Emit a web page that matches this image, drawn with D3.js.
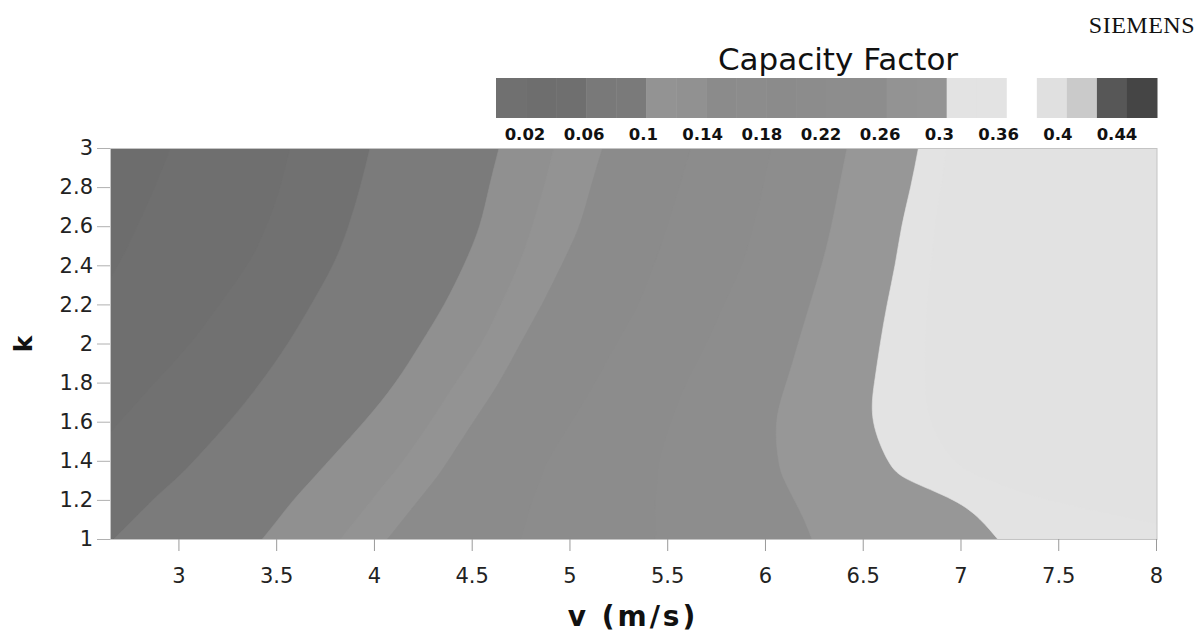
<!DOCTYPE html>
<html>
<head>
<meta charset="utf-8">
<script src="https://cdn.jsdelivr.net/npm/d3@7"></script>
<style>
  html, body { margin: 0; padding: 0; background: #ffffff; }
  svg { display: block; }
</style>
</head>
<body>
<svg id="chart" width="1204" height="637"></svg>
<script>
// ---------------- data ----------------
const xTicks = [3, 3.5, 4, 4.5, 5, 5.5, 6, 6.5, 7, 7.5, 8];
const yTicks = [1, 1.2, 1.4, 1.6, 1.8, 2, 2.2, 2.4, 2.6, 2.8, 3];

// k values at which each contour boundary position (wind speed v) was read
const kLevels = [1, 1.1, 1.2, 1.3, 1.4, 1.6, 1.8, 2, 2.2, 2.4, 2.6, 2.8, 3];

// contour boundaries (v in m/s at each k of kLevels), left to right
const cf002 = [1.76, 1.83, 1.90, 1.97, 2.04, 2.18, 2.32, 2.45, 2.57, 2.69, 2.79, 2.88, 2.96];
const cf004 = [2.16, 2.25, 2.34, 2.43, 2.52, 2.70, 2.88, 3.06, 3.21, 3.35, 3.45, 3.52, 3.57];
const cf006 = [2.67, 2.77, 2.87, 2.98, 3.08, 3.26, 3.42, 3.56, 3.68, 3.79, 3.87, 3.93, 3.98];
const cf010 = [3.43, 3.51, 3.59, 3.68, 3.77, 3.95, 4.11, 4.24, 4.36, 4.46, 4.54, 4.59, 4.64];
const cf012 = [3.83, 3.91, 3.99, 4.07, 4.15, 4.29, 4.42, 4.55, 4.65, 4.74, 4.81, 4.87, 4.92];
const cf014 = [4.07, 4.15, 4.23, 4.31, 4.38, 4.51, 4.64, 4.75, 4.86, 4.96, 5.05, 5.11, 5.17];
const cf018 = [4.75, 4.78, 4.81, 4.85, 4.89, 5.01, 5.13, 5.24, 5.35, 5.43, 5.50, 5.56, 5.62];
const cf022 = [5.44, 5.44, 5.44, 5.45, 5.46, 5.52, 5.60, 5.70, 5.79, 5.88, 5.94, 5.99, 6.03];
const cf026 = [6.24, 6.20, 6.15, 6.10, 6.07, 6.06, 6.11, 6.17, 6.23, 6.29, 6.34, 6.38, 6.42];
const cf030 = [7.19, 7.10, 6.96, 6.74, 6.63, 6.555, 6.56, 6.59, 6.625, 6.665, 6.70, 6.745, 6.785];
const cf036 = [8.30, 7.90, 7.45, 7.15, 6.97, 6.85, 6.82, 6.82, 6.83, 6.85, 6.87, 6.90, 6.93];

const boundaries = [cf002, cf004, cf006, cf010, cf012, cf014, cf018, cf022, cf026, cf030, cf036];
// grey of the band left of the first boundary, then of the band right of each boundary
const baseColor = "#6d6d6d";
const bandColors = ["#6f6f6f", "#717171", "#7b7b7b", "#909090", "#939393",
                    "#8b8b8b", "#8c8c8c", "#8d8d8d", "#979797", "#e3e3e3", "#e2e2e2"];

// legend
const legendTitle = "Capacity Factor";
const legendCells = ["#707070", "#6e6e6e", "#6f6f6f", "#797979", "#7a7a7a", "#939393",
                     "#919191", "#8b8b8b", "#8c8c8c", "#8b8b8b", "#8c8c8c", "#8d8d8d",
                     "#8d8d8d", "#939393", "#949494", "#e3e3e3", "#e3e3e3", "#ffffff",
                     "#e0e0e0", "#cacaca", "#575757", "#454545"];
const legendLabels = ["0.02", "0.06", "0.1", "0.14", "0.18", "0.22", "0.26", "0.3", "0.36", "0.4", "0.44"];

// ---------------- drawing ----------------
const svg = d3.select("#chart");
const plot = { left: 110, right: 1156, top: 148, bottom: 539 };

const x = d3.scaleLinear().domain([2.65, 8]).range([plot.left, plot.right]);
const y = d3.scaleLinear().domain([1, 3]).range([plot.bottom, plot.top]);

svg.append("defs").append("clipPath").attr("id", "plotClip")
  .append("rect")
  .attr("x", plot.left).attr("y", plot.top)
  .attr("width", plot.right - plot.left + 1).attr("height", plot.bottom - plot.top);

const g = svg.append("g").attr("clip-path", "url(#plotClip)");

g.append("rect")
  .attr("x", x(2.65)).attr("y", y(3))
  .attr("width", x(8) - x(2.65) + 1).attr("height", y(1) - y(3))
  .attr("fill", baseColor);

const area = d3.area()
  .curve(d3.curveNatural)
  .y(d => y(d.k))
  .x0(d => x(d.v))
  .x1(() => x(8) + 5);

boundaries.forEach((vals, i) => {
  const pts = kLevels.map((k, j) => ({ k: k, v: vals[j] }));
  g.append("path")
    .attr("d", area(pts))
    .attr("fill", bandColors[i])
    .attr("stroke", bandColors[i])
    .attr("stroke-width", 0.6);
});

// plot frame
svg.append("rect")
  .attr("x", plot.left + 0.5).attr("y", plot.top + 0.5)
  .attr("width", plot.right - plot.left + 0.5).attr("height", plot.bottom - plot.top)
  .attr("fill", "none").attr("stroke", "#c4c4c4").attr("stroke-width", 1);

// axes
const fontFamily = "'DejaVu Sans', Verdana, sans-serif";
const xAxis = svg.append("g")
  .attr("transform", `translate(0,${plot.bottom})`)
  .call(d3.axisBottom(x).tickValues(xTicks).tickSize(12).tickPadding(17).tickFormat(d => String(d)));
xAxis.select(".domain").remove();
xAxis.selectAll(".tick line").attr("stroke", "#9a9a9a");
xAxis.selectAll(".tick text").attr("font-family", fontFamily).attr("font-size", 21).attr("fill", "#222");

const yAxis = svg.append("g")
  .attr("transform", `translate(${plot.left},0)`)
  .call(d3.axisLeft(y).tickValues(yTicks).tickSize(13).tickPadding(4).tickFormat(d => String(d)));
yAxis.select(".domain").remove();
yAxis.selectAll(".tick line").attr("stroke", "#b0b0b0");
yAxis.selectAll(".tick text").attr("font-family", fontFamily).attr("font-size", 21).attr("fill", "#222");

// axis titles
svg.append("text")
  .attr("x", 633).attr("y", 626)
  .attr("text-anchor", "middle")
  .attr("font-family", fontFamily).attr("font-weight", "bold").attr("font-size", 28)
  .attr("letter-spacing", 3)
  .attr("fill", "#111")
  .text("v (m/s)");

svg.append("text")
  .attr("transform", "translate(32,344) rotate(-90)")
  .attr("text-anchor", "middle")
  .attr("font-family", fontFamily).attr("font-weight", "bold").attr("font-size", 25)
  .attr("fill", "#111")
  .text("k");

// legend
const legend = svg.append("g");
const lx = d3.scaleBand().domain(d3.range(legendCells.length)).range([496, 1157]).paddingInner(0);
legend.selectAll("rect").data(legendCells).join("rect")
  .attr("x", (d, i) => lx(i)).attr("y", 78)
  .attr("width", lx.bandwidth() + 0.5).attr("height", 40)
  .attr("fill", d => d);

const lLab = d3.scalePoint().domain(legendLabels).range([525, 1117]);
legend.selectAll("text.lab").data(legendLabels).join("text")
  .attr("class", "lab")
  .attr("x", d => lLab(d)).attr("y", 140)
  .attr("text-anchor", "middle")
  .attr("font-family", fontFamily).attr("font-weight", "bold").attr("font-size", 16.5)
  .attr("fill", "#111")
  .text(d => d);

legend.append("text")
  .attr("x", 838).attr("y", 70)
  .attr("text-anchor", "middle")
  .attr("font-family", fontFamily).attr("font-size", 31)
  .attr("fill", "#111")
  .text(legendTitle);

// corner mark
svg.append("text")
  .attr("x", 1195).attr("y", 33)
  .attr("text-anchor", "end")
  .attr("font-family", "'Liberation Serif', 'Times New Roman', serif").attr("font-size", 24)
  .attr("letter-spacing", 0.5)
  .attr("fill", "#111")
  .text("SIEMENS");
</script>
</body>
</html>
